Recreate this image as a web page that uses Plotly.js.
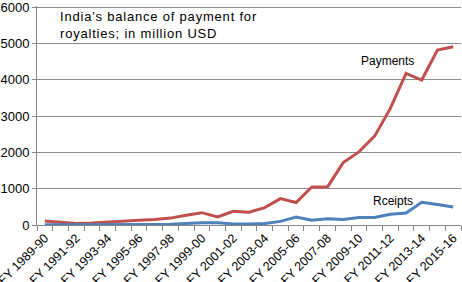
<!DOCTYPE html>
<html>
<head>
<meta charset="utf-8">
<script src="https://cdn.plot.ly/plotly-3.0.1.min.js"></script>
<style>
html,body{margin:0;padding:0;background:#fff;}
#chart{width:462px;height:282px;}
.annotation[data-index="0"] text.annotation-text{letter-spacing:0.8px !important;}
</style>
</head>
<body>
<div id="chart"></div>
<script>
const categories = ["FY 1989-90","FY 1990-91","FY 1991-92","FY 1992-93","FY 1993-94","FY 1994-95","FY 1995-96","FY 1996-97","FY 1997-98","FY 1998-99","FY 1999-00","FY 2000-01","FY 2001-02","FY 2002-03","FY 2003-04","FY 2004-05","FY 2005-06","FY 2006-07","FY 2007-08","FY 2008-09","FY 2009-10","FY 2010-11","FY 2011-12","FY 2012-13","FY 2013-14","FY 2014-15","FY 2015-16"];
const payments = [110,65,40,55,75,90,130,155,190,268,340,220,378,350,480,728,618,1050,1050,1720,2015,2448,3212,4178,3994,4822,4913];
const receipts = [10,8,5,6,8,10,12,15,20,40,65,60,30,30,40,100,220,130,175,150,205,205,295,330,625,563,497];
const tickLabels = categories.map((c, i) => i % 2 === 0 ? c : "");
const titleText = "India's balance of payment for<br>royalties; in million USD";
const seriesNames = ["Payments", "Rceipts"];

const font = "Liberation Sans, Arial, sans-serif";
const traces = [
  {x: categories, y: payments, type: "scatter", mode: "lines", name: seriesNames[0],
   line: {color: "#C0504D", width: 3}},
  {x: categories, y: receipts, type: "scatter", mode: "lines", name: seriesNames[1],
   line: {color: "#4F81BD", width: 3}}
];
const layout = {
  width: 462, height: 282,
  margin: {l: 37, r: 1, t: 6, b: 57},
  paper_bgcolor: "#fff", plot_bgcolor: "#fff",
  showlegend: false,
  font: {family: font, size: 12, color: "#000"},
  xaxis: {
    type: "category", range: [-0.5, 26.5],
    tickmode: "array", tickvals: categories, ticktext: tickLabels,
    tickson: "boundaries", ticks: "outside", ticklen: 5, tickcolor: "#868686",
    tickangle: -45, showgrid: false, zeroline: false,
    showline: true, linecolor: "#868686", linewidth: 1,
    tickfont: {family: font, size: 12.5, color: "#000"}
  },
  yaxis: {
    range: [0, 6035], tickvals: [0,1000,2000,3000,4000,5000,6000], tickformat: "d",
    ticklabeloverflow: "allow",
    showgrid: true, gridcolor: "#8c8c8c", gridwidth: 1,
    zeroline: false, showline: true, linecolor: "#868686", linewidth: 1,
    ticks: "outside", ticklen: 4, tickcolor: "#868686",
    tickfont: {family: font, size: 13, color: "#000"}
  },
  annotations: [
    {xref: "paper", yref: "paper", x: 0.05, y: 0.913, xanchor: "left", yanchor: "middle",
     align: "left", text: titleText, showarrow: false,
     font: {family: font, size: 13, color: "#000"}},
    {xref: "x", yref: "y", x: 21.8, y: 4527, text: seriesNames[0], showarrow: false,
     font: {family: font, size: 12, color: "#000"}},
    {xref: "x", yref: "y", x: 22.2, y: 654, text: seriesNames[1], showarrow: false,
     font: {family: font, size: 12, color: "#000"}}
  ]
};
Plotly.newPlot("chart", traces, layout, {displayModeBar: false, staticPlot: true});
</script>
</body>
</html>
